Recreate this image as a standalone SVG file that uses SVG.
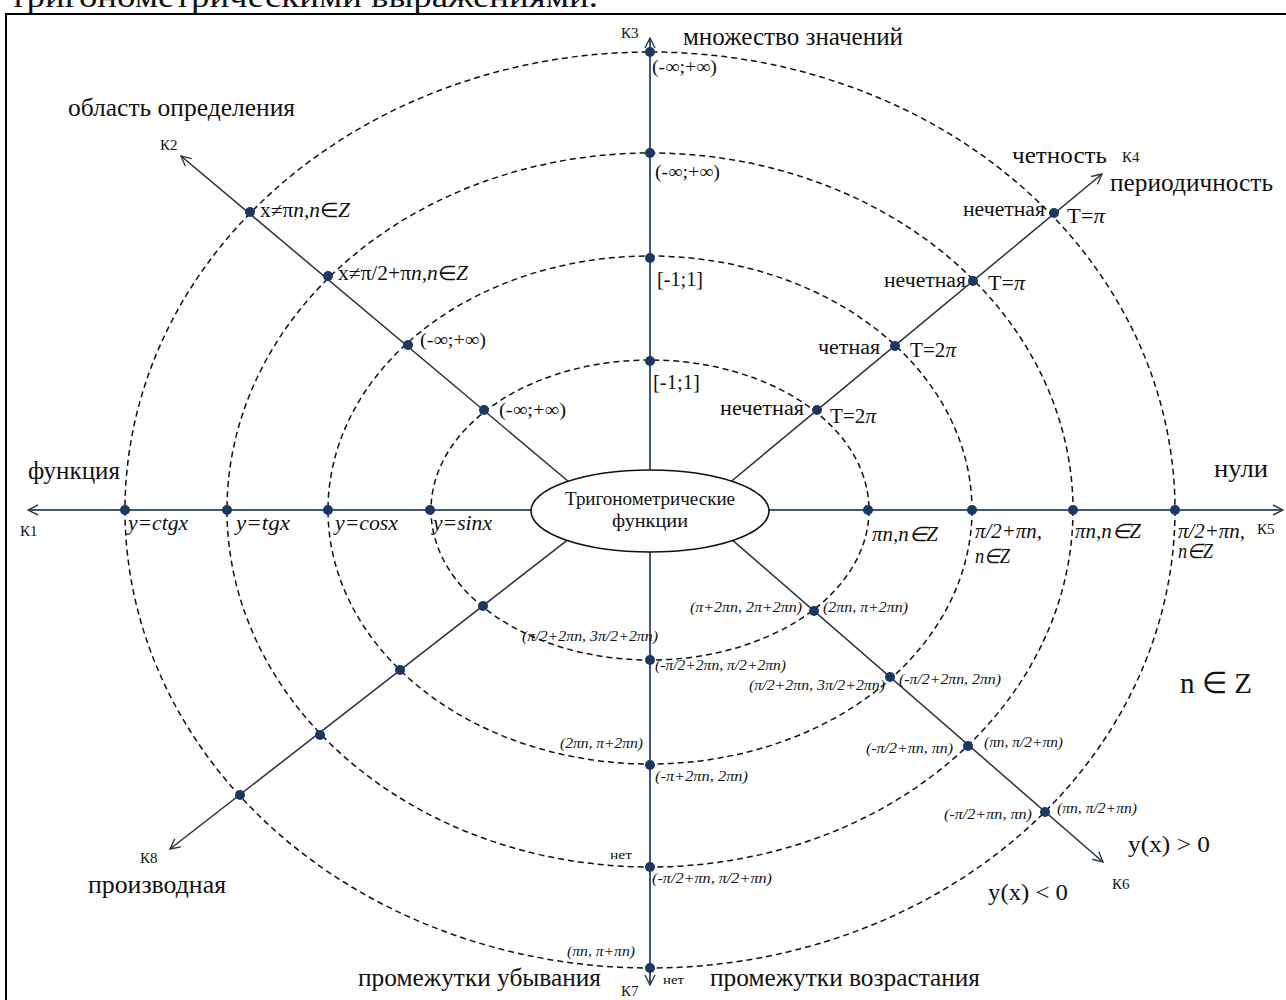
<svg xmlns="http://www.w3.org/2000/svg" width="1286" height="1000" viewBox="0 0 1286 1000">
<defs>
<marker id="arr" viewBox="0 0 12 12" refX="11" refY="6" markerWidth="12" markerHeight="12" markerUnits="userSpaceOnUse" orient="auto">
<path d="M1,1 L11,6 L1,11" fill="none" stroke="#2b3a4f" stroke-width="1.4"/>
</marker>
<style>
.t{font-family:"Liberation Serif","Times New Roman",serif;fill:#111}
.big{font-size:25px}
.k{font-size:15px}
.m{font-size:20px;font-style:italic}
.s{font-size:15px;font-style:italic}
.v{font-size:19px}
.p{font-size:20px}
.ring{fill:none;stroke:#111;stroke-width:1.5;stroke-dasharray:6 4}
.axis{stroke:#3f5877;stroke-width:2;fill:none}
.diag{stroke:#2a2f38;stroke-width:1.5;fill:none}
.dot{fill:#1c3760}
</style>
</defs>
<rect x="0" y="0" width="1286" height="1000" fill="#fff"/>
<text class="t" x="10" y="7" font-size="32" textLength="588" lengthAdjust="spacingAndGlyphs">тригонометрическими выражениями.</text>
<rect x="6" y="14" width="1290" height="1000" fill="none" stroke="#000" stroke-width="2"/>

<g id="rings">
<ellipse class="ring" cx="650" cy="510" rx="219" ry="150"/>
<ellipse class="ring" cx="650" cy="510" rx="322" ry="254"/>
<ellipse class="ring" cx="650" cy="510" rx="423" ry="357"/>
<ellipse class="ring" cx="650" cy="510" rx="525" ry="458"/>
</g>

<g id="connectors">
<line class="axis" x1="540" y1="510" x2="28" y2="510" marker-end="url(#arr)"/>
<line class="axis" x1="760" y1="510" x2="1283" y2="510" marker-end="url(#arr)"/>
<line class="axis" x1="650" y1="480" x2="650" y2="38" marker-end="url(#arr)"/>
<line class="axis" x1="650" y1="540" x2="650" y2="985" marker-end="url(#arr)"/>
<line class="diag" x1="575" y1="487" x2="181" y2="156" marker-end="url(#arr)"/>
<line class="diag" x1="725" y1="486.5" x2="1102" y2="174" marker-end="url(#arr)"/>
<line class="diag" x1="725" y1="533.6" x2="1103" y2="862" marker-end="url(#arr)"/>
<line class="diag" x1="577" y1="532.7" x2="170" y2="849" marker-end="url(#arr)"/>
</g>

<g id="center">
<ellipse cx="650" cy="511" rx="119" ry="41" fill="#fff" stroke="#111" stroke-width="1.6"/>
<text class="t" x="650" y="505" font-size="19" text-anchor="middle" textLength="170" lengthAdjust="spacingAndGlyphs">Тригонометрические</text>
<text class="t" x="650" y="527" font-size="19" text-anchor="middle" textLength="76" lengthAdjust="spacingAndGlyphs">функции</text>
</g>

<g id="axis-labels">
<text class="t k" x="621" y="38">К3</text>
<text class="t big" x="683" y="45" textLength="220" lengthAdjust="spacingAndGlyphs">множество значений</text>
<text class="t big" x="68" y="116" textLength="227" lengthAdjust="spacingAndGlyphs">область определения</text>
<text class="t k" x="160" y="150">К2</text>
<text class="t" x="1012" y="163" font-size="24" textLength="95" lengthAdjust="spacingAndGlyphs">четность</text>
<text class="t k" x="1122" y="162">К4</text>
<text class="t big" x="1110" y="191" textLength="163" lengthAdjust="spacingAndGlyphs">периодичность</text>
<text class="t big" x="28" y="479" textLength="92" lengthAdjust="spacingAndGlyphs">функция</text>
<text class="t big" x="1214" y="477" textLength="54" lengthAdjust="spacingAndGlyphs">нули</text>
<text class="t k" x="20" y="536">К1</text>
<text class="t k" x="1257" y="534">К5</text>
<text class="t" x="1180" y="693" font-size="30" textLength="72" lengthAdjust="spacingAndGlyphs">n ∈ Z</text>
<text class="t" x="1128" y="852" font-size="24" textLength="82" lengthAdjust="spacingAndGlyphs">y(x) &gt; 0</text>
<text class="t" x="988" y="900" font-size="24" textLength="80" lengthAdjust="spacingAndGlyphs">y(x) &lt; 0</text>
<text class="t k" x="1112" y="889">К6</text>
<text class="t k" x="140" y="863">К8</text>
<text class="t big" x="88" y="893" textLength="138" lengthAdjust="spacingAndGlyphs">производная</text>
<text class="t k" x="621" y="996">К7</text>
<text class="t big" x="358" y="986" textLength="243" lengthAdjust="spacingAndGlyphs">промежутки убывания</text>
<text class="t big" x="710" y="986" textLength="270" lengthAdjust="spacingAndGlyphs">промежутки возрастания</text>
</g>

<g id="k3-values">
<circle class="dot" cx="650" cy="52" r="5"/>
<text class="t v" x="652" y="73" textLength="65" lengthAdjust="spacingAndGlyphs">(-∞;+∞)</text>
<circle class="dot" cx="650" cy="153" r="5"/>
<text class="t v" x="655" y="178" textLength="65" lengthAdjust="spacingAndGlyphs">(-∞;+∞)</text>
<circle class="dot" cx="650" cy="258" r="5"/>
<text class="t" x="657" y="286" font-size="21" textLength="46" lengthAdjust="spacingAndGlyphs">[-1;1]</text>
<circle class="dot" cx="650" cy="361" r="5"/>
<text class="t" x="653" y="389" font-size="21" textLength="47" lengthAdjust="spacingAndGlyphs">[-1;1]</text>
</g>

<g id="k2-domain">
<circle class="dot" cx="250" cy="212" r="5"/>
<text class="t" x="260" y="217" font-size="20" textLength="90" lengthAdjust="spacingAndGlyphs">x≠π<tspan font-style="italic">n,n</tspan>∈<tspan font-style="italic">Z</tspan></text>
<circle class="dot" cx="328" cy="276" r="5"/>
<text class="t" x="338" y="280" font-size="20" textLength="130" lengthAdjust="spacingAndGlyphs">x≠π/2+π<tspan font-style="italic">n,n</tspan>∈<tspan font-style="italic">Z</tspan></text>
<circle class="dot" cx="408" cy="345" r="5"/>
<text class="t v" x="420" y="346" textLength="66" lengthAdjust="spacingAndGlyphs">(-∞;+∞)</text>
<circle class="dot" cx="484" cy="410" r="5"/>
<text class="t v" x="499" y="416" textLength="67" lengthAdjust="spacingAndGlyphs">(-∞;+∞)</text>
</g>

<g id="k4-parity">
<circle class="dot" cx="1054" cy="213" r="5"/>
<text class="t p" x="963" y="216" textLength="82" lengthAdjust="spacingAndGlyphs">нечетная</text>
<text class="t" x="1067" y="223" font-size="21" textLength="38" lengthAdjust="spacingAndGlyphs">T=<tspan font-style="italic">π</tspan></text>
<circle class="dot" cx="973" cy="281" r="5"/>
<text class="t p" x="884" y="287" textLength="82" lengthAdjust="spacingAndGlyphs">нечетная</text>
<text class="t" x="988" y="290" font-size="21" textLength="37" lengthAdjust="spacingAndGlyphs">T=<tspan font-style="italic">π</tspan></text>
<circle class="dot" cx="895" cy="346" r="5"/>
<text class="t p" x="818" y="354" textLength="62" lengthAdjust="spacingAndGlyphs">четная</text>
<text class="t" x="910" y="357" font-size="21" textLength="46" lengthAdjust="spacingAndGlyphs">T=2<tspan font-style="italic">π</tspan></text>
<circle class="dot" cx="817" cy="410" r="5"/>
<text class="t p" x="720" y="415" textLength="84" lengthAdjust="spacingAndGlyphs">нечетная</text>
<text class="t" x="830" y="423" font-size="21" textLength="46" lengthAdjust="spacingAndGlyphs">T=2<tspan font-style="italic">π</tspan></text>
</g>

<g id="k1-functions">
<circle class="dot" cx="430" cy="510" r="5"/>
<text class="t m" x="433" y="530" textLength="59" lengthAdjust="spacingAndGlyphs">y=sinx</text>
<circle class="dot" cx="328" cy="510" r="5"/>
<text class="t m" x="335" y="530" textLength="63" lengthAdjust="spacingAndGlyphs">y=cosx</text>
<circle class="dot" cx="227" cy="510" r="5"/>
<text class="t m" x="236" y="530" textLength="54" lengthAdjust="spacingAndGlyphs">y=tgx</text>
<circle class="dot" cx="125" cy="510" r="5"/>
<text class="t m" x="128" y="530" textLength="60" lengthAdjust="spacingAndGlyphs">y=ctgx</text>
</g>

<g id="k5-zeros">
<circle class="dot" cx="868" cy="510" r="5"/>
<text class="t m" x="872" y="541" textLength="66" lengthAdjust="spacingAndGlyphs">πn,n∈Z</text>
<circle class="dot" cx="972" cy="510" r="5"/>
<text class="t m" x="975" y="538" textLength="67" lengthAdjust="spacingAndGlyphs">π/2+πn,</text>
<text class="t m" x="975" y="563" textLength="35" lengthAdjust="spacingAndGlyphs">n∈Z</text>
<circle class="dot" cx="1073" cy="510" r="5"/>
<text class="t m" x="1075" y="538" textLength="66" lengthAdjust="spacingAndGlyphs">πn,n∈Z</text>
<circle class="dot" cx="1175" cy="510" r="5"/>
<text class="t m" x="1178" y="538" textLength="67" lengthAdjust="spacingAndGlyphs">π/2+πn,</text>
<text class="t m" x="1178" y="558" textLength="35" lengthAdjust="spacingAndGlyphs">n∈Z</text>
</g>

<g id="k6-sign">
<circle class="dot" cx="814" cy="611" r="5"/>
<text class="t s" x="690" y="612" textLength="112" lengthAdjust="spacingAndGlyphs">(π+2πn, 2π+2πn)</text>
<text class="t s" x="823" y="612" textLength="85" lengthAdjust="spacingAndGlyphs">(2πn, π+2πn)</text>
<circle class="dot" cx="890" cy="677" r="5"/>
<text class="t s" x="749" y="690" textLength="136" lengthAdjust="spacingAndGlyphs">(π/2+2πn, 3π/2+2πn)</text>
<text class="t s" x="899" y="684" textLength="102" lengthAdjust="spacingAndGlyphs">(-π/2+2πn, 2πn)</text>
<circle class="dot" cx="968" cy="746" r="5"/>
<text class="t s" x="866" y="753" textLength="87" lengthAdjust="spacingAndGlyphs">(-π/2+πn, πn)</text>
<text class="t s" x="984" y="747" textLength="79" lengthAdjust="spacingAndGlyphs">(πn, π/2+πn)</text>
<circle class="dot" cx="1045" cy="812" r="5"/>
<text class="t s" x="944" y="819" textLength="88" lengthAdjust="spacingAndGlyphs">(-π/2+πn, πn)</text>
<text class="t s" x="1057" y="813" textLength="80" lengthAdjust="spacingAndGlyphs">(πn, π/2+πn)</text>
</g>

<g id="k7-monotonic">
<circle class="dot" cx="650" cy="660" r="5"/>
<text class="t s" x="522" y="641" textLength="136" lengthAdjust="spacingAndGlyphs">(π/2+2πn, 3π/2+2πn)</text>
<text class="t s" x="655" y="670" textLength="131" lengthAdjust="spacingAndGlyphs">(-π/2+2πn, π/2+2πn)</text>
<circle class="dot" cx="650" cy="765" r="5"/>
<text class="t s" x="560" y="748" textLength="83" lengthAdjust="spacingAndGlyphs">(2πn, π+2πn)</text>
<text class="t s" x="655" y="781" textLength="93" lengthAdjust="spacingAndGlyphs">(-π+2πn, 2πn)</text>
<circle class="dot" cx="650" cy="867" r="5"/>
<text class="t" x="610" y="859" font-size="13" textLength="22" lengthAdjust="spacingAndGlyphs">нет</text>
<text class="t s" x="652" y="883" textLength="120" lengthAdjust="spacingAndGlyphs">(-π/2+πn,  π/2+πn)</text>
<circle class="dot" cx="650" cy="968" r="5"/>
<text class="t s" x="567" y="956" textLength="68" lengthAdjust="spacingAndGlyphs">(πn, π+πn)</text>
<text class="t" x="663" y="984" font-size="13" textLength="21" lengthAdjust="spacingAndGlyphs">нет</text>
</g>

<g id="k8-derivative">
<circle class="dot" cx="483" cy="606" r="5"/>
<circle class="dot" cx="400" cy="670" r="5"/>
<circle class="dot" cx="320" cy="735" r="5"/>
<circle class="dot" cx="240" cy="795" r="5"/>
</g>
</svg>
